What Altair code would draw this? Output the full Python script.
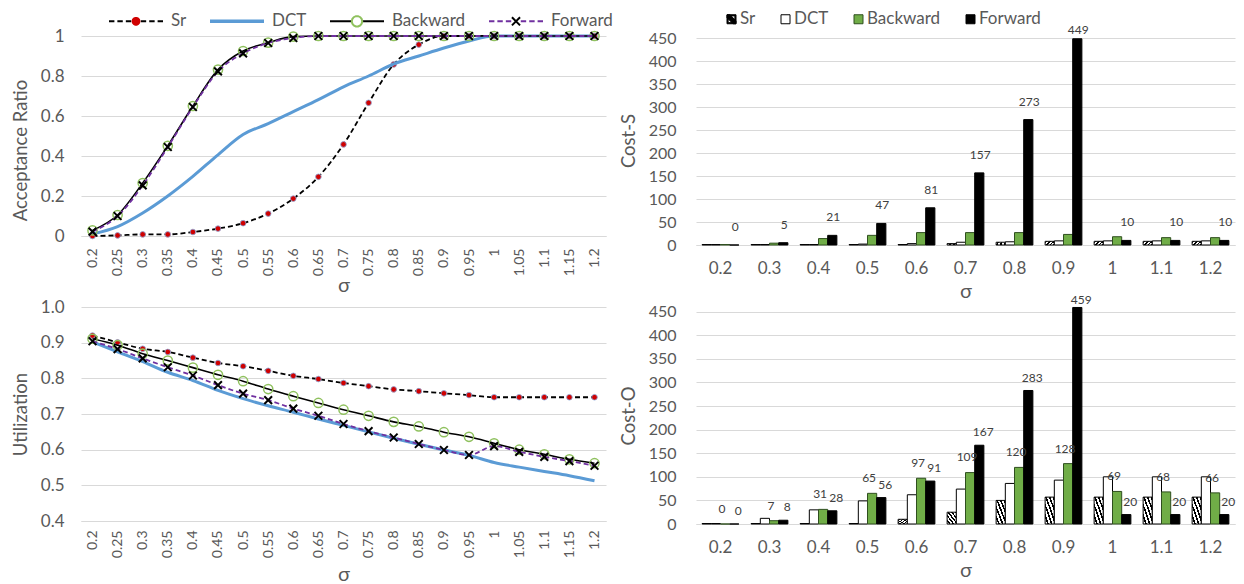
import math
import altair as alt
import pandas as pd

# ---------------- data ----------------
series = ["Sr", "DCT", "Backward", "Forward"]

sigma_fine = ["0.2", "0.25", "0.3", "0.35", "0.4", "0.45", "0.5", "0.55", "0.6", "0.65", "0.7",
              "0.75", "0.8", "0.85", "0.9", "0.95", "1", "1.05", "1.1", "1.15", "1.2"]

acc_sr = [0.0, 0.003, 0.008, 0.008, 0.02, 0.037, 0.064, 0.112, 0.187, 0.296, 0.458,
          0.666, 0.858, 0.957, 1.0, 1.0, 1.0, 1.0, 1.0, 1.0, 1.0]
acc_dct = [0.01, 0.047, 0.115, 0.2, 0.298, 0.406, 0.507, 0.562, 0.622, 0.682, 0.746,
           0.80, 0.86, 0.90, 0.94, 0.975, 1.0, 1.0, 1.0, 1.0, 1.0]
acc_back = [0.028, 0.105, 0.265, 0.451, 0.65, 0.832, 0.925, 0.967, 0.997, 1.0, 1.0,
            1.0, 1.0, 1.0, 1.0, 1.0, 1.0, 1.0, 1.0, 1.0, 1.0]
acc_fwd = [0.022, 0.10, 0.253, 0.445, 0.645, 0.823, 0.913, 0.965, 0.99, 1.0, 1.0,
           1.0, 1.0, 1.0, 1.0, 1.0, 1.0, 1.0, 1.0, 1.0, 1.0]

util_sr = [0.920, 0.901, 0.883, 0.874, 0.858, 0.843, 0.834, 0.821, 0.807, 0.798, 0.787,
           0.778, 0.769, 0.764, 0.758, 0.753, 0.747, 0.747, 0.747, 0.747, 0.747]
util_dct = [0.902, 0.874, 0.847, 0.817, 0.794, 0.766, 0.743, 0.723, 0.705, 0.686, 0.668,
            0.650, 0.632, 0.615, 0.599, 0.584, 0.564, 0.551, 0.539, 0.527, 0.513]
util_back = [0.911, 0.893, 0.869, 0.850, 0.830, 0.810, 0.792, 0.770, 0.750, 0.731, 0.712,
             0.695, 0.678, 0.665, 0.649, 0.636, 0.618, 0.600, 0.587, 0.573, 0.562]
util_fwd = [0.904, 0.882, 0.856, 0.831, 0.808, 0.781, 0.757, 0.739, 0.715, 0.695, 0.672,
            0.652, 0.634, 0.616, 0.599, 0.585, 0.610, 0.594, 0.580, 0.568, 0.555]

sigma_coarse = ["0.2", "0.3", "0.4", "0.5", "0.6", "0.7", "0.8", "0.9", "1", "1.1", "1.2"]

costS_sr = [1, 1, 1, 1, 1, 3, 6, 8, 8, 8, 8]
costS_dct = [1, 1, 1, 2, 3, 6, 7, 9, 9, 9, 9]
costS_back = [1, 4, 14, 21, 27, 27, 27, 23, 18, 16, 16]
costS_fwd = [0, 5, 21, 47, 81, 157, 273, 449, 10, 10, 10]

costO_sr = [1, 1, 1, 1, 10, 25, 50, 57, 57, 57, 57]
costO_dct = [1, 12, 30, 49, 62, 74, 86, 93, 100, 100, 100]
costO_back = [0, 7, 31, 65, 97, 109, 120, 128, 69, 68, 66]
costO_fwd = [0, 8, 28, 56, 91, 167, 283, 459, 20, 20, 20]

# ---------------- styles ----------------
FONT = "Lato"
GRAY = "#595959"
GRID = "#D9D9D9"
LABEL_DARK = "#404040"
BLUE = "#5B9BD5"
PURPLE = "#7030A0"
RED = "#D00000"
RING = "#8FC15E"
BAR_GREEN = "#70AD47"


def long_df(x_vals, cols):
    rows = []
    for s, vals in zip(series, cols):
        for i, (xv, v) in enumerate(zip(x_vals, vals)):
            rows.append({"sigma": xv, "series": s, "value": v, "idx": i})
    return pd.DataFrame(rows)


acc_df = long_df(sigma_fine, [acc_sr, acc_dct, acc_back, acc_fwd])
util_df = long_df(sigma_fine, [util_sr, util_dct, util_back, util_fwd])
costS_df = long_df(sigma_coarse, [costS_sr, costS_dct, costS_back, costS_fwd])
costO_df = long_df(sigma_coarse, [costO_sr, costO_dct, costO_back, costO_fwd])
legend_df = pd.DataFrame({"lseries": series, "mseries": series, "bseries": series})


def poly(r, n=14):
    pts = [(r * math.cos(2 * math.pi * k / n), r * math.sin(2 * math.pi * k / n)) for k in range(n)]
    return "M" + "L".join(f"{px:.3f},{py:.3f}" for px, py in pts) + "Z"


def dashes(segs):
    return "".join(f"M{a},0L{b},0" for a, b in segs)


# invisible zero-length anchors so that both overlaid legends get identical glyph bounds
EXTENT = "M-3,-0.6L-3,-0.6M3,0.6L3,0.6"
DASH_SEGS = [(-3, -2.4), (-2.07, -1.47), (-1.13, -0.53), (0.53, 1.13), (1.47, 2.07), (2.4, 3)]
XPATH = "M-1,-1L1,1M-1,1L1,-1"

LINE_STYLE = {
    "Sr": dict(color="#000000", strokeWidth=1.8, strokeDash=[5, 3]),
    "DCT": dict(color=BLUE, strokeWidth=3),
    "Backward": dict(color="#000000", strokeWidth=1.6),
    "Forward": dict(color=PURPLE, strokeWidth=1.8, strokeDash=[5, 3]),
}


def line_legend_layers():
    line_paths = [dashes(DASH_SEGS) + EXTENT,
                  "M-3,-0.08L3,-0.08M-3,0.08L3,0.08" + EXTENT,
                  "M-3,0L-0.62,0M0.62,0L3,0" + EXTENT,
                  dashes(DASH_SEGS) + EXTENT]
    line_cols = ["#000000", BLUE, "#000000", PURPLE]
    marker_paths = [poly(0.38) + EXTENT, "M0,0L0,0" + EXTENT, poly(0.58) + EXTENT,
                    "M-0.45,-0.45L0.45,0.45M-0.45,0.45L0.45,-0.45" + EXTENT]
    marker_fill = [RED, "transparent", "transparent", "transparent"]
    marker_stroke = [RED, "transparent", RING, "#000000"]
    common = dict(orient="none", legendX=45, legendY=-25, direction="horizontal", columns=4,
                  title=None, symbolSize=324, symbolStrokeWidth=2, labelFont=FONT,
                  labelFontSize=17, labelColor=GRAY, labelOffset=25, columnPadding=19)
    l1 = alt.Legend(**common)
    l2 = alt.Legend(labelOpacity=0, **common)
    leg_lines = alt.Chart(legend_df).transform_filter("false").mark_point(filled=False, opacity=1).encode(
        shape=alt.Shape("lseries:N", scale=alt.Scale(domain=series, range=line_paths), legend=l1),
        stroke=alt.Stroke("lseries:N", scale=alt.Scale(domain=series, range=line_cols), legend=l1),
    )
    leg_marks = alt.Chart(legend_df).transform_filter("false").mark_point(filled=True, opacity=1).encode(
        shape=alt.Shape("mseries:N", scale=alt.Scale(domain=series, range=marker_paths), legend=l2),
        fill=alt.Fill("mseries:N", scale=alt.Scale(domain=series, range=marker_fill), legend=l2),
        stroke=alt.Stroke("mseries:N", scale=alt.Scale(domain=series, range=marker_stroke), legend=l2),
    )
    return [leg_lines, leg_marks]


def line_panel(df, y_domain, y_values, y_format, y_title, height, x_label_pad, x_title_pad,
               title_y=None, legend=False):
    x = alt.X("sigma:O", sort=sigma_fine, scale=alt.Scale(type="point", padding=0.458),
              axis=alt.Axis(title="σ", labelAngle=-90, labelFontSize=14, labelPadding=x_label_pad,
                            titleFontSize=20, titlePadding=x_title_pad, grid=False, ticks=False,
                            domainColor=GRID, domainWidth=1))
    yax = dict(values=y_values, format=y_format, title=y_title, labelFontSize=17, labelPadding=17,
               titleFontSize=18.5, titlePadding=10, grid=True, gridColor=GRID, domain=False, ticks=False)
    if title_y is not None:
        yax["titleY"] = title_y
    y = alt.Y("value:Q", scale=alt.Scale(domain=y_domain, nice=False, zero=False), axis=alt.Axis(**yax))
    layers = []
    for s in series:
        base = alt.Chart(df).transform_filter(alt.datum.series == s).encode(x=x, y=y, order="idx:Q")
        layers.append(base.mark_line(interpolate="monotone", **LINE_STYLE[s]))
        if s == "Sr":
            layers.append(base.mark_circle(size=32, fill=RED, stroke="#8EA9DB", strokeWidth=0.8, opacity=1))
        elif s == "Backward":
            layers.append(base.mark_point(shape="circle", size=85, filled=False, color=RING,
                                          strokeWidth=1.5, opacity=1))
        elif s == "Forward":
            layers.append(base.mark_point(shape=XPATH, size=60, filled=False, color="#000000",
                                          strokeWidth=2, opacity=1))
    if legend:
        layers += line_legend_layers()
    ch = alt.layer(*layers).properties(width=525, height=height)
    if legend:
        ch = ch.resolve_scale(shape="independent", fill="independent", stroke="independent")
    return ch


def hatch():
    n = 5
    p = 1.0 / n
    stops = []
    for k in range(n):
        a = k * p
        stops += [alt.GradientStop(color="#FFFFFF", offset=round(a, 4)),
                  alt.GradientStop(color="#FFFFFF", offset=round(a + 0.55 * p, 4)),
                  alt.GradientStop(color="#000000", offset=round(a + 0.55 * p, 4)),
                  alt.GradientStop(color="#000000", offset=round(a + p, 4))]
    return alt.LinearGradient(gradient="linear", stops=stops, x1=0, y1=1, x2=1, y2=0)


BAR_STYLE = {
    "Sr": dict(fill=hatch(), stroke="#000000", strokeWidth=1),
    "DCT": dict(fill="#FFFFFF", stroke="#000000", strokeWidth=1),
    "Backward": dict(fill=BAR_GREEN, stroke="#2F4F1F", strokeWidth=1),
    "Forward": dict(fill="#000000", stroke="#000000", strokeWidth=1),
}


def bar_legend_layer():
    sr_path = ("M-1,-1L1,-1L1,1L-1,1Z"
               "M-0.75,-0.75L-0.75,0.75L0.75,0.75L0.75,-0.75Z"
               "M-1,-1L-0.35,-1L1,0.35L1,1L0.35,1L-1,-0.35Z")
    sq = "M-1,-1L1,-1L1,1L-1,1Z"
    leg = alt.Legend(orient="none", legendX=27, legendY=-25.5, direction="horizontal", columns=4,
                     title=None, symbolSize=81, symbolStrokeWidth=1, labelFont=FONT, labelFontSize=17,
                     labelColor=GRAY, labelOffset=0, columnPadding=21)
    return alt.Chart(legend_df).transform_filter("false").mark_point(filled=True, opacity=1).encode(
        shape=alt.Shape("bseries:N", scale=alt.Scale(domain=series, range=[sr_path, sq, sq, sq]), legend=leg),
        fill=alt.Fill("bseries:N", scale=alt.Scale(domain=series,
                                                   range=["#000000", "#FFFFFF", BAR_GREEN, "#000000"]), legend=leg),
        stroke=alt.Stroke("bseries:N", scale=alt.Scale(domain=series,
                                                       range=["#000000", "#000000", "#2F4F1F", "#000000"]), legend=leg),
    )


def bar_panel(df, y_max, y_title, height, label_specs, legend=False):
    x = alt.X("sigma:O", sort=sigma_coarse,
              scale=alt.Scale(type="band", paddingInner=0.25, paddingOuter=0.125),
              axis=alt.Axis(title="σ", labelAngle=0, labelFontSize=17, labelPadding=15, titleFontSize=20,
                            titlePadding=5, grid=False, ticks=False, domainColor=GRID))
    xo = alt.XOffset("series:N", sort=series, scale=alt.Scale(domain=series, paddingInner=0, paddingOuter=0))
    yscale = alt.Scale(domain=[0, y_max], nice=False, zero=True)
    yaxis = alt.Axis(values=list(range(0, 451, 50)), title=y_title, labelFontSize=16, labelPadding=20,
                     titleFontSize=18.5, titlePadding=10, grid=True, gridColor=GRID, domain=False, ticks=False)
    y = alt.Y("value:Q", scale=yscale, axis=yaxis)
    layers = []
    for s in series:
        layers.append(alt.Chart(df).transform_filter(alt.datum.series == s)
                      .mark_bar(**BAR_STYLE[s]).encode(x=x, xOffset=xo, y=y))
    for s, up, clamp, dx in label_specs:
        yl = alt.Y("ly:Q", scale=yscale, axis=yaxis)
        layers.append(alt.Chart(df).transform_filter(alt.datum.series == s)
                      .transform_calculate(ly=f"min(datum.value + {up}, {clamp})")
                      .mark_text(font=FONT, fontSize=12, color=LABEL_DARK, baseline="middle", align="center", dx=dx)
                      .encode(x=x, xOffset=xo, y=yl, text=alt.Text("value:Q")))
    if legend:
        layers.append(bar_legend_layer())
    return alt.layer(*layers).properties(width=539, height=height)


tl = line_panel(acc_df, [0, 1], [0, 0.2, 0.4, 0.6, 0.8, 1], "~g", "Acceptance Ratio", 200, 12, 0,
                title_y=114, legend=True)
bl = line_panel(util_df, [0.4, 1.0], [0.4, 0.5, 0.6, 0.7, 0.8, 0.9, 1.0], ".1f", "Utilization", 214, 9, 7)
tr = bar_panel(costS_df, 455, "Cost-S", 209, [("Forward", 39, 468, 1)], legend=True)
br = bar_panel(costO_df, 460, "Cost-O", 217, [("Backward", 32, 474, -3), ("Forward", 27.5, 474, 4)])

chart = alt.concat(tl, tr, bl, br, columns=2, spacing={"row": 62, "column": 90},
                   bounds="flush", align="each",
                   padding={"left": 3, "top": 2, "right": 0, "bottom": 0})
chart = chart.resolve_scale(shape="independent", fill="independent", stroke="independent")
chart = (chart.configure_view(stroke=None)
         .configure_axis(labelFont=FONT, titleFont=FONT, labelColor=GRAY, titleColor=GRAY,
                         titleFontWeight="normal")
         .configure_legend(labelFont=FONT, labelColor=GRAY))

chart.save("out.html", embed_options={"renderer": "svg", "actions": False})
